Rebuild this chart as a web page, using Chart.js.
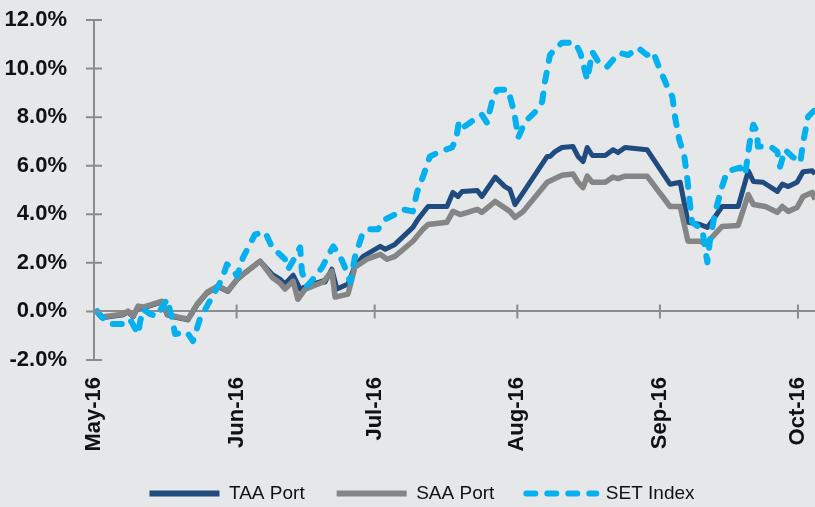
<!DOCTYPE html>
<html>
<head>
<meta charset="utf-8">
<script src="https://cdn.jsdelivr.net/npm/chart.js@4"></script>
<style>
  html, body { margin: 0; padding: 0; background: #e6e7e9; }
  #wrap { width: 815px; height: 507px; position: relative; }
</style>
</head>
<body>
<div id="wrap"><canvas id="chart"></canvas></div>
<script>
/* cumulative return chart — x = days since 1 May 2016, y = % */
const MONTH_DAYS = [0, 31, 61, 92, 123, 153];
const MONTH_LABELS = ["May-16", "Jun-16", "Jul-16", "Aug-16", "Sep-16", "Oct-16"];
const Y_TICKS = [-2, 0, 2, 4, 6, 8, 10, 12];

const TAA_DAYS = [0.7, 1.7, 6.3, 7.4, 8.5, 9.6, 10.7, 12.8, 14.8, 15.9, 17.2, 20.4, 22.4, 24.6, 27.0, 29.1, 31.1, 32.4, 36.1, 38.7,
  40.4, 41.5, 43.3, 44.8, 46.5, 49.6, 50.2, 51.7, 52.8, 55.2, 56.7, 58.5, 62.2, 63.3, 65.4, 69.3, 70.4, 72.6, 76.7, 78.0,
  79.1, 80.0, 83.3, 84.3, 87.2, 89.3, 90.4, 91.5, 93.3, 98.5, 99.1, 100.2, 101.7, 104.1, 105.2, 106.3, 107.2, 108.3, 111.1, 112.8,
  113.9, 115.4, 120.2, 125.2, 127.4, 129.1, 131.7, 133.3, 134.3, 136.5, 140.0, 142.2, 143.3, 145.4, 148.5, 149.6, 150.9, 152.8, 154.1, 156.1, 156.7];
const TAA_VALS = [-0.05, -0.26, -0.14, -0.02, -0.22, 0.19, 0.15, 0.27, 0.39, -0.14, -0.22, -0.35, 0.27, 0.76, 1.02, 0.82, 1.31, 1.52, 2.07, 1.53,
  1.33, 1.13, 1.49, 0.92, 1.05, 1.25, 1.21, 1.74, 0.92, 1.13, 1.86, 2.27, 2.68, 2.56, 2.76, 3.46, 3.79, 4.32, 4.32, 4.90,
  4.73, 4.94, 4.98, 4.73, 5.53, 5.14, 5.02, 4.40, 4.90, 6.38, 6.38, 6.58, 6.75, 6.79, 6.38, 6.17, 6.75, 6.42, 6.42, 6.66,
  6.54, 6.75, 6.66, 5.24, 5.32, 3.67, 3.58, 3.46, 3.71, 4.32, 4.32, 5.79, 5.35, 5.32, 4.94, 5.24, 5.14, 5.32, 5.75, 5.79, 5.66];

const SAA_DAYS = [0.7, 1.7, 6.3, 7.4, 8.5, 9.6, 10.7, 12.8, 14.8, 15.9, 17.2, 20.4, 22.4, 24.6, 27.0, 29.1, 31.1, 32.4, 36.1, 38.7,
  40.4, 41.5, 43.3, 44.3, 45.9, 49.8, 51.7, 52.4, 55.2, 56.7, 59.3, 62.2, 63.7, 65.4, 69.3, 71.5, 72.6, 76.7, 78.0, 79.6,
  83.3, 84.3, 87.2, 90.4, 91.5, 93.3, 98.5, 100.2, 101.7, 104.1, 105.2, 106.3, 107.2, 108.3, 111.1, 112.8, 113.9, 115.4, 120.2, 125.2,
  127.4, 129.1, 131.7, 133.3, 134.3, 136.5, 140.0, 142.2, 143.3, 145.9, 148.5, 149.6, 150.9, 152.8, 154.1, 156.1, 156.7];
const SAA_VALS = [-0.03, -0.23, -0.11, 0.01, -0.19, 0.22, 0.18, 0.30, 0.42, -0.11, -0.19, -0.32, 0.30, 0.79, 1.05, 0.84, 1.33, 1.53, 2.07, 1.41,
  1.17, 0.92, 1.25, 0.50, 0.92, 1.21, 1.66, 0.59, 0.71, 1.82, 2.15, 2.35, 2.15, 2.27, 2.89, 3.38, 3.58, 3.67, 4.12, 3.99,
  4.20, 4.08, 4.53, 4.12, 3.87, 4.12, 5.32, 5.47, 5.61, 5.66, 5.32, 5.10, 5.57, 5.32, 5.32, 5.53, 5.47, 5.57, 5.57, 4.32,
  4.32, 2.89, 2.89, 2.76, 3.05, 3.50, 3.54, 4.81, 4.40, 4.32, 4.08, 4.32, 4.12, 4.28, 4.73, 4.90, 4.61];

const SET_DAYS = [0.7, 1.7, 3.5, 6.3, 7.8, 9.6, 10.0, 10.7, 12.2, 13.7, 14.8, 15.9, 17.0, 17.6, 20.2, 21.5, 23.0, 24.8, 27.8, 28.9,
  30.2, 31.1, 32.4, 35.0, 37.2, 38.7, 40.4, 41.5, 42.2, 43.7, 44.8, 45.2, 46.3, 47.6, 49.6, 50.7, 52.0, 53.5, 55.0, 55.7,
  56.7, 58.3, 59.6, 61.7, 63.3, 65.4, 67.2, 69.3, 70.2, 71.5, 73.0, 75.2, 77.8, 78.7, 79.3, 80.2, 81.7, 83.5, 84.3, 85.4,
  86.5, 87.6, 90.0, 91.3, 92.2, 93.7, 95.9, 97.4, 98.0, 99.1, 100.4, 101.7, 104.6, 105.7, 107.2, 108.3, 109.6, 111.5, 112.8, 114.3,
  116.1, 118.3, 120.2, 121.5, 122.6, 124.6, 125.7, 126.3, 127.2, 128.3, 128.9, 129.6, 130.0, 132.2, 133.3, 133.9, 135.0, 136.5, 137.6, 140.4,
  141.5, 142.6, 143.3, 144.1, 144.3, 147.0, 148.5, 149.1, 150.2, 151.7, 153.5, 154.1, 155.2, 156.7];
const SET_VALS = [0.01, -0.23, -0.52, -0.52, -0.32, -0.93, -0.44, 0.09, -0.11, -0.19, 0.18, 0.50, -0.32, -0.93, -0.85, -1.22, -0.32, 0.30, 1.33, 1.94,
  1.74, 1.45, 2.23, 3.17, 3.26, 2.64, 2.35, 2.15, 1.74, 2.23, 2.64, 1.61, 1.05, 1.33, 1.82, 2.23, 2.68, 2.27, 1.61, 1.20,
  2.23, 3.17, 3.38, 3.38, 3.79, 3.99, 4.20, 4.12, 4.90, 5.55, 6.38, 6.58, 6.75, 7.08, 7.81, 7.57, 7.77, 8.02, 8.10, 7.77,
  8.63, 9.13, 9.13, 8.22, 7.16, 7.81, 8.22, 8.63, 9.45, 10.56, 10.85, 11.06, 11.06, 10.64, 9.54, 10.69, 10.28, 10.07, 10.36, 10.64,
  10.56, 10.85, 10.56, 10.69, 10.15, 9.25, 8.84, 7.98, 7.07, 6.38, 5.55, 4.32, 3.67, 3.38, 2.02, 2.97, 4.08, 5.14, 5.76, 5.92,
  5.63, 7.07, 7.69, 7.40, 6.79, 6.79, 6.58, 5.96, 6.66, 6.38, 6.13, 6.95, 8.02, 8.30];

const pts = (xs, ys) => xs.map((x, i) => ({ x: x, y: ys[i] }));
const AXIS_GREY = "#8c8c8c";
const FONT = "'Liberation Sans', Arial, sans-serif";

// 軸をまたぐ短い目盛り線
const crossTicks = {
  id: "crossTicks",
  afterDatasetsDraw(chart) {
    const { ctx, scales: { x, y } } = chart;
    const y0 = y.getPixelForValue(0);
    ctx.save();
    ctx.strokeStyle = AXIS_GREY;
    ctx.lineWidth = 2;
    ctx.beginPath();
    x.ticks.forEach(t => {
      const px = x.getPixelForValue(t.value);
      ctx.moveTo(px, y0 - 7); ctx.lineTo(px, y0 + 7);
    });
    y.ticks.forEach(t => {
      const py = y.getPixelForValue(t.value);
      ctx.moveTo(x.left - 8, py); ctx.lineTo(x.left + 8, py);
    });
    ctx.stroke();
    ctx.restore();
  }
};

// 凡例は元図に合わせて少し右寄せ
const shiftLegend = {
  id: "shiftLegend",
  afterLayout(chart) {
    const lg = chart.legend;
    if (!lg) return;
    lg.left += 12;
    lg.right += 12;
  }
};

// 凡例: 線種(破線)をデータセットから引き継ぐ
const legendItems = chart =>
  Chart.defaults.plugins.legend.labels.generateLabels(chart).map(item => {
    const ds = chart.data.datasets[item.datasetIndex];
    item.lineDash = ds.borderDash || [];
    item.lineCap = ds.borderCapStyle || "butt";
    item.lineWidth = 6;
    return item;
  });

new Chart(document.getElementById("chart"), {
  type: "line",
  data: {
    datasets: [
      { label: "TAA Port", data: pts(TAA_DAYS, TAA_VALS), borderColor: "#1f4b7e", borderWidth: 5, order: 3 },
      { label: "SAA Port", data: pts(SAA_DAYS, SAA_VALS), borderColor: "#858585", borderWidth: 5.5, order: 2 },
      { label: "SET Index", data: pts(SET_DAYS, SET_VALS), borderColor: "#05b0ef", borderWidth: 6,
        borderDash: [9, 12], borderCapStyle: "round", order: 1 },
    ],
  },
  options: {
    responsive: true,
    maintainAspectRatio: false,
    animation: false,
    layout: { padding: { left: 5, right: 0, top: 20, bottom: -6 } },
    elements: {
      point: { radius: 0, hoverRadius: 0 },
      line: { tension: 0, borderJoinStyle: "round", fill: false },
    },
    scales: {
      x: {
        type: "linear",
        min: 0,
        max: 156.7,
        afterBuildTicks: axis => { axis.ticks = MONTH_DAYS.map(v => ({ value: v })); },
        afterFit: axis => { axis.paddingLeft = 0; axis.paddingRight = 0; axis.height = 92; },
        ticks: {
          autoSkip: false,
          minRotation: 90,
          maxRotation: 90,
          padding: 17,
          color: "#111",
          font: { family: FONT, size: 22, weight: "bold" },
          callback: v => MONTH_LABELS[MONTH_DAYS.indexOf(v)],
        },
        grid: { display: false, drawTicks: false },
        border: { display: false },
      },
      y: {
        min: -2,
        max: 12,
        afterBuildTicks: axis => { axis.ticks = Y_TICKS.map(v => ({ value: v })); },
        afterFit: axis => { axis.width = 89; axis.paddingTop = 0; axis.paddingBottom = 0; },
        ticks: {
          padding: 27,
          color: "#111",
          font: { family: FONT, size: 22, weight: "bold" },
          callback: v => v.toFixed(1) + "%",
        },
        grid: {
          drawTicks: false,
          lineWidth: 2,
          color: c => (c.tick && c.tick.value === 0) ? AXIS_GREY : "rgba(0,0,0,0)",
        },
        border: { display: true, color: AXIS_GREY, width: 2 },
      },
    },
    plugins: {
      legend: {
        position: "bottom",
        labels: {
          usePointStyle: true,
          pointStyle: "line",
          pointStyleWidth: 70,
          padding: 32,
          color: "#111",
          font: { family: FONT, size: 19 },
          sort: (a, b) => a.datasetIndex - b.datasetIndex,
          generateLabels: legendItems,
        },
      },
      tooltip: { enabled: false },
    },
  },
  plugins: [crossTicks, shiftLegend],
});
</script>
</body>
</html>
